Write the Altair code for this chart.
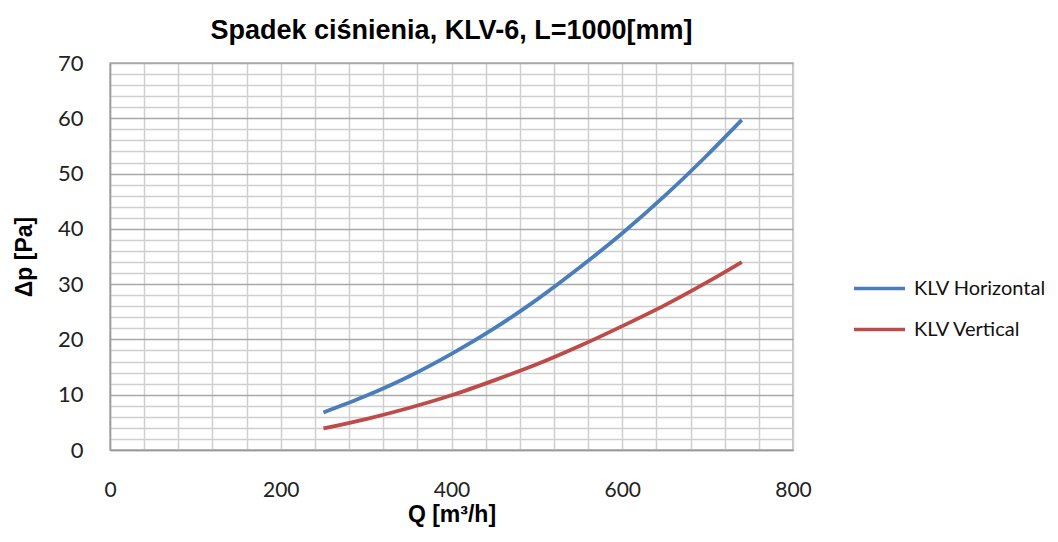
import altair as alt
import pandas as pd

q_values = [250, 300, 350, 400, 450, 500, 550, 600, 650, 700, 740]
dp_horizontal = [6.8, 9.8, 13.3, 17.4, 22.0, 27.2, 33.0, 39.2, 46.0, 53.4, 59.7]
dp_vertical = [3.9, 5.6, 7.6, 9.9, 12.6, 15.5, 18.8, 22.4, 26.2, 30.4, 34.0]
series_names = ["KLV Horizontal", "KLV Vertical"]
series_colors = ["#4a7ebb", "#be4b48"]

rows = []
for q, h in zip(q_values, dp_horizontal):
    rows.append({"Q": q, "dp": h, "series": series_names[0]})
for q, v in zip(q_values, dp_vertical):
    rows.append({"Q": q, "dp": v, "series": series_names[1]})
df = pd.DataFrame(rows)

x_grid = list(range(0, 801, 40))
y_grid = list(range(0, 71, 2))

chart = alt.Chart(df).mark_line(strokeWidth=3.8, interpolate="monotone").encode(
    x=alt.X("Q:Q", scale=alt.Scale(domain=[0, 800], nice=False),
            axis=alt.Axis(values=x_grid, title="Q [m³/h]",
                          labelExpr="datum.value % 200 == 0 ? datum.label : ''",
                          ticks=False, labelPadding=29, labelFontSize=21,
                          labelFont="Lato", labelColor="#222222", labelFlush=False,
                          titleFont="Liberation Sans", titleFontSize=23, titleFontWeight="bold",
                          titleBaseline="alphabetic", titleY=71, titleX=341.5, titleColor="#000000",
                          gridColor="#cfcfcf", gridWidth=1.5, domainColor="#9a9a9a", domainWidth=1.5)),
    y=alt.Y("dp:Q", scale=alt.Scale(domain=[0, 70], nice=False),
            axis=alt.Axis(values=y_grid, title="Δp [Pa]",
                          labelExpr="datum.value % 10 == 0 ? datum.label : ''",
                          ticks=False, labelPadding=27, labelFontSize=22,
                          labelFont="Lato", labelColor="#222222", labelFlush=False,
                          titleFont="Liberation Sans", titleFontSize=23, titleFontWeight="bold",
                          titleBaseline="alphabetic", titleX=-79, titleY=193.5, titleColor="#000000",
                          gridColor={"condition": {"test": "datum.value % 10 === 0", "value": "#a8a8a8"}, "value": "#cfcfcf"},
                          gridWidth=1.5, domainColor="#9a9a9a", domainWidth=1.5)),
    color=alt.Color("series:N", scale=alt.Scale(domain=series_names, range=series_colors),
                    legend=alt.Legend(title=None, orient="none", legendX=742, legendY=198,
                                      symbolType="stroke", symbolSize=2600, symbolStrokeWidth=3.5,
                                      labelFont="Lato", labelFontSize=20, labelColor="#111111",
                                      labelOffset=7, rowPadding=3, padding=0)),
).properties(
    width=683, height=387,
    title=alt.TitleParams("Spadek ciśnienia, KLV-6, L=1000[mm]", font="Liberation Sans",
                          fontSize=27, fontWeight="bold", anchor="middle", offset=7,
                          color="#000000"),
    autosize=alt.AutoSizeParams(type="none"),
    padding={"left": 102, "top": 55, "right": 257, "bottom": 80},
).configure_view(stroke="#b0b0b0", strokeWidth=1.5)

chart.save("out.html", embed_options={"renderer": "svg", "actions": False})
